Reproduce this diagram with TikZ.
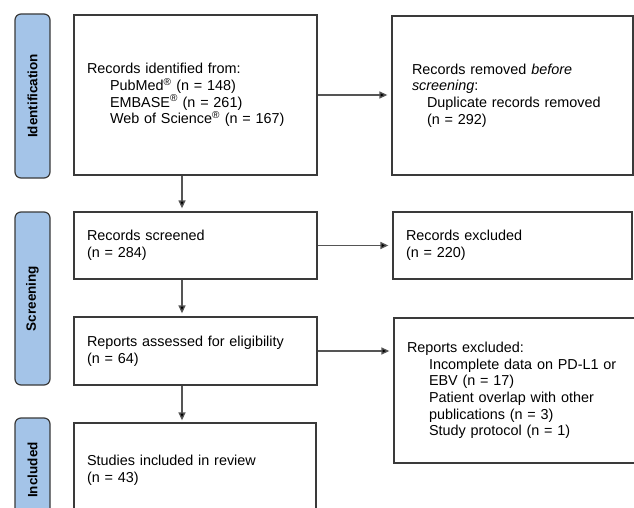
\documentclass[tikz,border=0pt]{standalone}
\usepackage{fontspec}
\setmainfont{Liberation Sans}
\usetikzlibrary{arrows.meta}
\definecolor{sidefill}{RGB}{164,196,232}
\definecolor{boxline}{RGB}{58,58,58}
\definecolor{arrline}{RGB}{85,85,85}
\begin{document}
\begin{tikzpicture}[x=1pt,y=-1pt,
  sidebox/.style={draw=boxline,line width=1.2pt,fill=sidefill,rounded corners=6pt,
    minimum width=35pt,inner sep=0pt},
  sidelabel/.style={rotate=90,font=\fontsize{13.5}{15}\selectfont\bfseries},
  flowbox/.style={draw=boxline,line width=1.3pt,align=left,inner ysep=0pt,
    font=\fontsize{14.4}{16.56}\selectfont},
  arr/.style={draw=arrline,line width=1.3pt,-{Triangle[length=8pt,width=7pt,fill=black]}}]
\clip (0,0) rectangle (634,508);
\fill[white] (0,0) rectangle (634,508);
% side labels
\node[sidebox,minimum height=164pt] (sid) at (32.5,96) {};
\node[sidelabel] (sidt) at (sid.center) {Identification};
\node[sidebox,minimum height=173pt] (sscr) at (32.5,298.5) {};
\node[sidelabel] (sscrt) at (sscr.center) {Screening};
\node[sidebox,minimum height=104pt] (sinc) at (32.5,470) {};
\node[sidelabel] (sinct) at (sinc.center) {Included};
% flow boxes
\node[flowbox,minimum height=160pt,inner xsep=13pt,text width=217pt] (ident) at (195.5,95)
  {Records identified from:\\
   \hspace*{23pt}PubMed\textsuperscript{®} (n = 148)\\
   \hspace*{23pt}EMBASE\textsuperscript{®} (n = 261)\\
   \hspace*{23pt}Web of Science\textsuperscript{®} (n = 167)};
\node[flowbox,minimum height=159pt,inner xsep=20pt,text width=201pt] (removed) at (512.5,95.5)
  {Records removed \textit{before}\\
   \textit{screening}:\\
   \hspace*{15pt}Duplicate records removed\\
   \hspace*{15pt}(n = 292)};
\node[flowbox,minimum height=67pt,inner xsep=13pt,text width=217pt] (screened) at (195.5,245.5)
  {Records screened\\(n = 284)};
\node[flowbox,minimum height=67pt,inner xsep=13pt,text width=213pt] (rexcl) at (512.5,245.5)
  {Records excluded\\(n = 220)};
\node[flowbox,minimum height=68pt,inner xsep=13pt,text width=217pt] (assessed) at (195.5,351)
  {Reports assessed for eligibility\\(n = 64)};
\node[flowbox,minimum height=145pt,inner xsep=13pt,text width=219pt] (repexcl) at (516.5,390.5)
  {Reports excluded:\\
   \hspace*{22pt}Incomplete data on PD-L1 or\\
   \hspace*{22pt}EBV (n = 17)\\
   \hspace*{22pt}Patient overlap with other\\
   \hspace*{22pt}publications (n = 3)\\
   \hspace*{22pt}Study protocol (n = 1)};
\node[flowbox,minimum height=94pt,inner xsep=13pt,text width=216pt] (included) at (195,470)
  {Studies included in review\\(n = 43)};
% arrows
\coordinate (ax) at (182,0);
\draw[arr,shorten >=4pt] (ident.east) -- (removed.west |- ident.east);
\draw[arr,shorten >=3pt] (ident.south -| ax) -- (screened.north -| ax);
\draw[arr,shorten >=4pt] (screened.east) -- (rexcl.west |- screened.east);
\draw[arr,shorten >=3pt] (screened.south -| ax) -- (assessed.north -| ax);
\draw[arr,shorten >=4pt] (assessed.east) -- (repexcl.west |- assessed.east);
\draw[arr,shorten >=2pt] (assessed.south -| ax) -- (included.north -| ax);
\end{tikzpicture}
\end{document}
